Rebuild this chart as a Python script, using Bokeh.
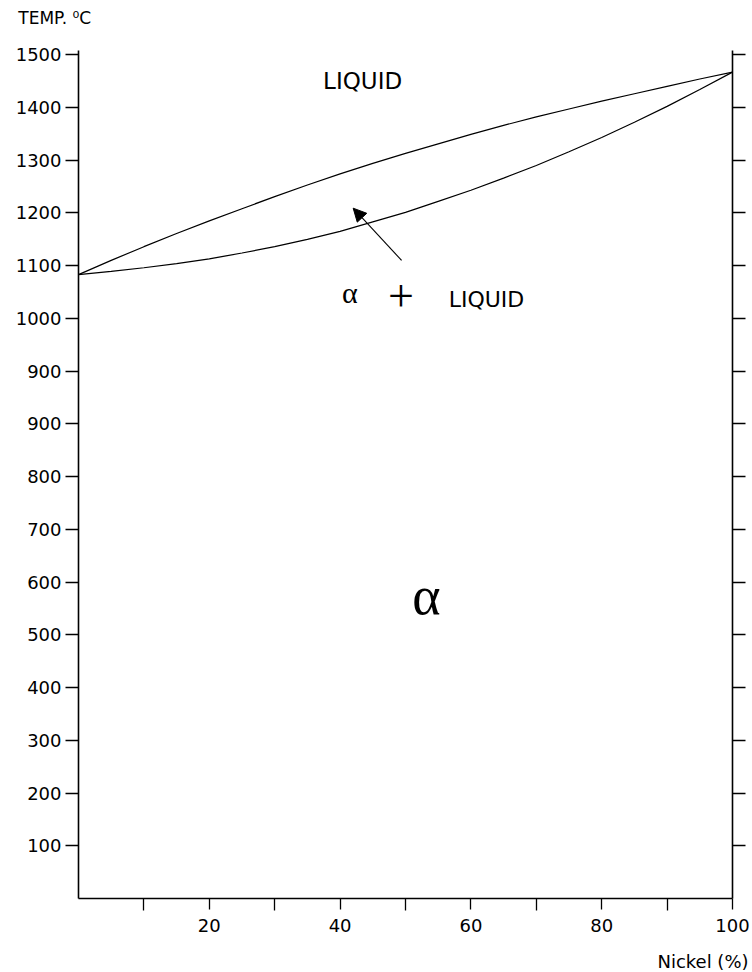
from bokeh.plotting import figure
from bokeh.models import (Range1d, FixedTicker, LinearAxis, Label, Arrow, NormalHead)
from bokeh.embed import file_html
from bokeh.resources import INLINE

# ---- data (y values in the axis' own units; labels below show the printed values) ----
nickel_pct = [0, 5, 10, 15, 20, 25, 30, 35, 40, 45, 50, 55, 60, 65, 70, 75, 80, 85, 90, 95, 100]
liquidus = [1183, 1210, 1236, 1261, 1285, 1308, 1331, 1353, 1374, 1394, 1413,
            1431, 1449, 1466, 1482, 1497, 1512, 1526, 1540, 1554, 1567]
solidus = [1183, 1189, 1196, 1204, 1213, 1224, 1236, 1250, 1265, 1283, 1301,
           1322, 1343, 1366, 1390, 1416, 1443, 1472, 1502, 1534, 1567]

y_ticks = [100, 200, 300, 400, 500, 600, 700, 800, 900, 1000, 1100, 1200, 1300, 1400, 1500, 1600]
y_tick_labels = ["100", "200", "300", "400", "500", "600", "700", "800", "900", "900",
                 "1000", "1100", "1200", "1300", "1400", "1500"]
x_major_ticks = [20, 40, 60, 80, 100]
x_minor_ticks = [10, 30, 50, 70, 90]

FONT = "DejaVu Sans"

# ---- geometry: the whole canvas is the frame; axes are pinned at data positions ----
W, H = 750, 972
X_MIN, X_MAX, Y_MIN, Y_MAX = 0, 100, 0, 1608
AX_LEFT, AX_RIGHT, AX_BOTTOM, AX_TOP = 78, 732, 898, 50   # pixel positions of the axes box
sx = (AX_RIGHT - AX_LEFT) / (X_MAX - X_MIN)
sy = (AX_BOTTOM - AX_TOP) / (Y_MAX - Y_MIN)
x_range = Range1d(X_MIN - AX_LEFT / sx, X_MAX + (W - AX_RIGHT) / sx)
y_range = Range1d(Y_MIN - (H - AX_BOTTOM) / sy, Y_MAX + AX_TOP / sy)

p = figure(width=W, height=H, output_backend="svg", toolbar_location=None,
           x_range=x_range, y_range=y_range,
           x_axis_location=None, y_axis_location=None,
           min_border_left=0, min_border_right=0, min_border_top=0, min_border_bottom=0)
p.outline_line_color = None
p.xgrid.visible = False
p.ygrid.visible = False
p.background_fill_color = "white"
p.border_fill_color = "white"

def style_axis(ax):
    ax.axis_line_width = 1.6
    ax.axis_line_color = "black"
    ax.major_tick_line_color = "black"
    ax.major_tick_line_width = 1.3
    ax.minor_tick_line_color = "black"
    ax.minor_tick_line_width = 1.3
    ax.major_tick_in = 0
    ax.minor_tick_in = 0
    ax.major_label_text_font = FONT
    ax.major_label_text_font_size = "18px"
    ax.major_label_text_color = "black"

# left axis
yl = LinearAxis(ticker=FixedTicker(ticks=y_ticks, minor_ticks=[]),
                fixed_location=X_MIN, bounds=(Y_MIN, Y_MAX))
style_axis(yl)
yl.major_tick_out = 13
yl.minor_tick_out = 0
yl.major_label_standoff = 4
yl.major_label_overrides = {t: lab for t, lab in zip(y_ticks, y_tick_labels)}
p.add_layout(yl, "left")

# right axis (ticks only)
yr = LinearAxis(ticker=FixedTicker(ticks=y_ticks, minor_ticks=[]),
                fixed_location=X_MAX, bounds=(Y_MIN, Y_MAX))
style_axis(yr)
yr.major_tick_out = 13
yr.minor_tick_out = 0
yr.major_label_standoff = 0
yr.major_label_overrides = {t: "" for t in y_ticks}
p.add_layout(yr, "right")

# bottom axis
xb = LinearAxis(ticker=FixedTicker(ticks=x_major_ticks, minor_ticks=x_minor_ticks),
                fixed_location=Y_MIN, bounds=(X_MIN, X_MAX))
style_axis(xb)
xb.major_tick_out = 11
xb.minor_tick_out = 12
xb.major_label_standoff = 8
p.add_layout(xb, "below")

# phase boundaries
p.line(nickel_pct, liquidus, line_color="black", line_width=1.2)
p.line(nickel_pct, solidus, line_color="black", line_width=1.2)

# arrow into the two-phase field
p.add_layout(Arrow(end=NormalHead(size=13, fill_color="black", line_color="black", line_width=1),
                   x_start=49.4, y_start=1210, x_end=42.0, y_end=1309,
                   line_color="black", line_width=1.1))

# axis titles
p.add_layout(Label(x=-9.2, y=1669, text="TEMP. ⁰C", text_font=FONT, text_font_size="17px",
                   text_align="left", text_baseline="alphabetic", text_color="black"))
p.add_layout(Label(x=102.45, y=-119, text="Nickel (%)", text_font=FONT, text_font_size="18px",
                   text_align="right", text_baseline="alphabetic", text_color="black"))

# region labels
p.add_layout(Label(x=37.4, y=1550, text="LIQUID", text_font=FONT, text_font_size="23px",
                   text_align="left", text_baseline="middle", text_color="black"))
p.add_layout(Label(x=40.3, y=1150, text="α", text_font="Liberation Serif", text_font_size="30px",
                   text_align="left", text_baseline="alphabetic", text_color="black"))
p.add_layout(Label(x=49.3, y=1143, text="+", text_font="Liberation Serif", text_font_size="46px",
                   text_align="center", text_baseline="middle", text_color="black"))
p.add_layout(Label(x=56.6, y=1136, text="LIQUID", text_font=FONT, text_font_size="22px",
                   text_align="left", text_baseline="alphabetic", text_color="black"))
p.add_layout(Label(x=53.2, y=573, text="α", text_font="Liberation Serif", text_font_size="54px",
                   text_align="center", text_baseline="alphabetic", text_color="black"))

open("out.html", "w").write(file_html(p, INLINE))
